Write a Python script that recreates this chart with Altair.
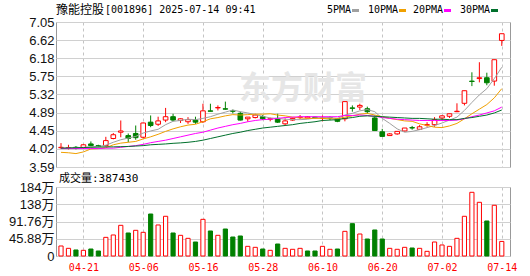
import altair as alt
import pandas as pd

# ---------------- data ----------------
dates = ["04-16","04-17","04-18","04-21","04-22","04-23","04-24","04-25","04-28","04-29",
         "04-30","05-06","05-07","05-08","05-09","05-12","05-13","05-14","05-15","05-16",
         "05-19","05-20","05-21","05-22","05-23","05-26","05-27","05-28","05-29","05-30",
         "06-03","06-04","06-05","06-06","06-09","06-10","06-11","06-12","06-13","06-16",
         "06-17","06-18","06-19","06-20","06-23","06-24","06-25","06-26","06-27","06-30",
         "07-01","07-02","07-03","07-04","07-07","07-08","07-09","07-10","07-11","07-14"]

opens = [4.05,4.04,4.06,4.05,4.14,4.10,4.10,4.27,4.42,4.34,
         4.39,4.30,4.66,4.61,4.71,4.79,4.70,4.67,4.71,4.67,
         4.93,5.00,4.98,4.93,4.87,4.74,4.77,4.79,4.73,4.75,
         4.62,4.71,4.77,4.76,4.78,4.75,4.77,4.74,4.74,5.00,
         5.02,4.98,4.76,4.43,4.34,4.38,4.45,4.53,4.49,4.59,
         4.60,4.76,4.80,4.91,5.11,5.64,5.70,5.72,5.64,6.61]
highs = [4.16,4.12,4.09,4.13,4.20,4.12,4.31,4.40,4.70,4.39,
         4.58,4.65,4.82,4.79,5.00,4.86,4.75,4.78,4.79,5.10,
         5.10,5.06,5.15,4.96,4.91,4.78,4.86,4.83,4.77,4.86,
         4.75,4.77,4.83,4.80,4.79,4.82,4.80,4.76,5.15,5.06,
         5.10,5.03,4.82,4.50,4.40,4.44,4.52,4.57,4.59,4.66,
         4.78,4.83,4.86,5.11,5.41,5.85,6.09,5.84,6.15,6.77]
lows = [4.02,4.01,4.01,4.02,4.08,4.06,4.08,4.25,4.30,4.18,
        4.24,4.27,4.54,4.57,4.66,4.68,4.64,4.62,4.62,4.64,
        4.92,4.94,4.96,4.87,4.70,4.67,4.75,4.71,4.68,4.64,
        4.57,4.69,4.73,4.75,4.75,4.68,4.71,4.66,4.68,4.91,
        4.95,4.86,4.46,4.32,4.33,4.36,4.44,4.48,4.48,4.55,
        4.55,4.71,4.76,4.90,5.06,5.52,5.61,5.54,5.53,6.48]
closes = [4.06,4.05,4.04,4.12,4.10,4.08,4.22,4.36,4.45,4.27,
          4.29,4.64,4.58,4.69,4.79,4.71,4.74,4.72,4.66,4.93,
          4.92,5.01,4.97,4.92,4.71,4.78,4.83,4.74,4.74,4.66,
          4.69,4.75,4.78,4.79,4.77,4.76,4.76,4.68,5.15,4.99,
          5.06,4.91,4.46,4.32,4.38,4.44,4.52,4.52,4.55,4.60,
          4.72,4.81,4.86,4.92,5.41,5.63,5.72,5.60,6.15,6.77]

ma5 = [4.04,4.04,4.05,4.06,4.07,4.08,4.11,4.18,4.24,4.28,
       4.32,4.40,4.45,4.49,4.60,4.68,4.70,4.73,4.72,4.75,
       4.79,4.85,4.90,4.95,4.91,4.88,4.84,4.80,4.76,4.75,
       4.73,4.72,4.72,4.73,4.76,4.77,4.77,4.75,4.83,4.87,
       4.93,4.96,4.91,4.75,4.63,4.50,4.42,4.44,4.48,4.53,
       4.58,4.64,4.71,4.78,4.94,5.13,5.31,5.46,5.70,5.97]
ma10 = [3.94,3.93,3.91,3.95,4.02,4.03,4.05,4.12,4.16,4.18,
        4.20,4.26,4.31,4.37,4.44,4.50,4.55,4.59,4.61,4.67,
        4.74,4.77,4.81,4.84,4.83,4.84,4.85,4.85,4.86,4.83,
        4.81,4.78,4.76,4.75,4.75,4.75,4.74,4.74,4.78,4.81,
        4.85,4.87,4.83,4.79,4.75,4.72,4.69,4.68,4.62,4.58,
        4.54,4.53,4.57,4.63,4.74,4.86,4.97,5.08,5.24,5.46]
ma20 = [4.03,4.03,4.03,4.03,4.03,4.03,4.04,4.04,4.06,4.08,
        4.10,4.13,4.17,4.20,4.23,4.27,4.31,4.35,4.39,4.42,
        4.47,4.52,4.56,4.60,4.63,4.67,4.70,4.72,4.73,4.75,
        4.77,4.78,4.79,4.79,4.79,4.79,4.79,4.79,4.82,4.82,
        4.83,4.82,4.80,4.77,4.75,4.73,4.72,4.71,4.70,4.70,
        4.70,4.70,4.70,4.71,4.74,4.79,4.83,4.88,4.93,5.02]
ma30 = [4.04,4.045,4.05,4.055,4.06,4.065,4.07,4.07,4.075,4.08,
        4.09,4.10,4.12,4.13,4.14,4.155,4.165,4.18,4.20,4.23,
        4.27,4.31,4.35,4.39,4.42,4.46,4.49,4.52,4.54,4.56,
        4.58,4.60,4.63,4.65,4.67,4.70,4.71,4.72,4.75,4.77,
        4.80,4.81,4.80,4.79,4.78,4.77,4.76,4.75,4.75,4.74,
        4.73,4.73,4.72,4.72,4.75,4.77,4.80,4.83,4.88,4.95]

# volume in 万 shares
volumes = [26.6,20.4,16.0,15.1,18.6,13.3,49.6,55.9,81.6,61.2,
           68.3,63.0,111.7,82.5,105.6,61.2,55.0,47.0,37.2,97.5,
           66.5,55.0,71.8,50.5,53.2,25.7,23.1,18.6,15.1,31.9,
           20.4,17.8,20.4,13.3,13.3,25.7,17.8,18.6,65.6,86.0,
           58.5,45.2,69.2,45.2,20.4,17.8,23.1,21.3,20.4,12.4,
           37.2,29.3,25.7,47.0,105.6,169.4,142.8,93.1,134.9,38.74]
vol_up = [1,1,0,1,0,0,1,1,1,0,
          1,1,0,1,1,0,1,1,0,1,
          0,1,0,0,0,1,1,0,1,0,
          1,1,1,0,0,1,1,0,1,0,
          1,0,0,0,1,1,1,0,1,1,
          1,1,1,1,1,1,1,0,1,1]

tick_dates = ["04-21","05-06","05-16","05-28","06-10","06-20","07-02","07-14"]
price_ticks = [3.59,4.02,4.45,4.89,5.32,5.75,6.18,6.62,7.05]
vol_ticks = [0,45.88,91.76,137.64,183.52]
vol_tick_labels = ["0","45.88万","91.76万","138万","184万"]
ma_names = ["5PMA","10PMA","20PMA","30PMA"]
ma_colors = ["#a0a0a0","#f0a000","#ff00ff","#00702c"]
title_name = "豫能控股"
title_rest = "[001896] 2025-07-14 09:41"
vol_header = "成交量:387430"
watermark = "东方财富"

# ---------------- build tables ----------------
n = len(dates)
df = pd.DataFrame({"i": list(range(n)), "date": dates, "open": opens, "high": highs,
                   "low": lows, "close": closes, "vol": volumes, "volup": vol_up})
df["dir"] = ["up" if c >= o else "down" for o, c in zip(opens, closes)]
ma_df = pd.concat([pd.DataFrame({"i": list(range(n)), "value": v, "series": name})
                   for name, v in zip(ma_names, [ma5, ma10, ma20, ma30])])
tick_idx = [dates.index(d) for d in tick_dates]

RED = "#ff0000"
GREEN = "#008000"
W = 454
HP = 145
HV = 69
xscale = alt.Scale(domain=[-0.67, 60.1], nice=False, zero=False)
pscale = alt.Scale(domain=[3.59, 7.05], nice=False, zero=False)
vscale = alt.Scale(domain=[0, 183.52], nice=False, zero=False)

x_axis_p = alt.Axis(values=tick_idx, labels=False, ticks=False, tickSize=0, domain=False,
                    grid=True, gridDash=[3, 3], gridColor="#c4c4c4", title=None)
y_axis_p = alt.Axis(values=price_ticks, format=".2f", title=None, grid=True, gridColor="#d0d0d0",
                    domain=False, ticks=False, tickSize=0, labelPadding=2, labelFont="Liberation Sans",
                    labelFontSize=13, labelColor="#111111", labelOverlap=False, labelFlush=False)

lab_expr = "''"
for k, d in zip(tick_idx, tick_dates):
    lab_expr = f"datum.value == {k} ? '{d}' : " + lab_expr
vlab_expr = "'0'"
for v, lab in zip(vol_ticks, vol_tick_labels):
    vlab_expr = f"abs(datum.value - {v}) < 0.01 ? '{lab}' : " + vlab_expr

x_axis_v = alt.Axis(values=tick_idx, labelExpr=lab_expr, ticks=False, tickSize=0, domain=False,
                    grid=True, gridDash=[3, 3], gridColor="#c4c4c4", title=None,
                    labelColor=RED, labelFont="DejaVu Sans Mono", labelFontSize=10,
                    labelPadding=6, labelFlush=False, labelOverlap=False)
y_axis_v = alt.Axis(values=vol_ticks, labelExpr=vlab_expr, title=None, grid=True, gridColor="#d0d0d0",
                    domain=False, ticks=False, tickSize=0, labelPadding=2,
                    labelFont="Liberation Sans, Noto Sans CJK SC", labelFontSize=13,
                    labelColor="#111111", labelOverlap=False, labelFlush=False)

def xp(field="i"):
    return alt.X(f"{field}:Q", scale=xscale, axis=x_axis_p)

def yp(field):
    return alt.Y(f"{field}:Q", scale=pscale, axis=y_axis_p)

one = pd.DataFrame({"k": [0]})

# ---------------- price panel ----------------
wm = alt.Chart(one).mark_text(text=watermark, font="Noto Sans CJK SC", fontSize=32,
                              fontWeight="bold", color="#e6e6e6", align="center",
                              baseline="middle").encode(x=alt.value(247), y=alt.value(67))
anchor = alt.Chart(one).mark_rule(color="#ffffff", strokeWidth=1).encode(
    x=alt.value(-55), x2=alt.value(-54), y=alt.value(-21), y2=alt.value(-20))

wick = alt.Chart(df).mark_rule(strokeWidth=1).encode(
    x=xp(), y=yp("low"), y2="high:Q",
    color=alt.condition("datum.dir == 'up'", alt.value(RED), alt.value(GREEN)))

body = alt.Chart(df).transform_calculate(
    x0="datum.i - 0.31", x1="datum.i + 0.31"
).mark_rect(strokeWidth=1).encode(
    x=xp("x0"), x2="x1:Q", y=yp("open"), y2="close:Q",
    fill=alt.condition("datum.dir == 'up'", alt.value("#ffffff"), alt.value(GREEN)),
    stroke=alt.condition("datum.dir == 'up'", alt.value(RED), alt.value(GREEN)))

lines = alt.Chart(ma_df).mark_line(strokeWidth=1, interpolate="linear").encode(
    x=xp(), y=yp("value"),
    color=alt.Color("series:N", scale=alt.Scale(domain=ma_names, range=ma_colors), legend=None),
    detail="series:N")

title1 = alt.Chart(one).mark_text(text=title_name, font="Noto Sans CJK SC", fontSize=12,
                                  align="left", baseline="middle", color="#000000").encode(
    x=alt.value(0), y=alt.value(-12))
title2 = alt.Chart(one).mark_text(text=title_rest, font="DejaVu Sans Mono", fontSize=10,
                                  align="left", baseline="middle", color="#000000").encode(
    x=alt.value(49), y=alt.value(-12))

leg_layers = []
leg_text_x = [271, 312, 357, 404]
for name, col, lx in zip(ma_names, ma_colors, leg_text_x):
    leg_layers.append(alt.Chart(one).mark_text(text=name, font="DejaVu Sans Mono", fontSize=10,
                                               align="left", baseline="middle", color="#000000").encode(
        x=alt.value(lx), y=alt.value(-12)))
    sx = lx + len(name) * 6 + 1
    leg_layers.append(alt.Chart(one).mark_rect(color=col).encode(
        x=alt.value(sx), x2=alt.value(sx + 7), y=alt.value(-13), y2=alt.value(-10)))

price = alt.layer(wm, anchor, wick, body, lines, title1, title2, *leg_layers).properties(
    width=W, height=HP)

# ---------------- volume panel ----------------
vhead = alt.Chart(one).mark_text(text=vol_header, font="DejaVu Sans Mono, Noto Sans CJK SC",
                                 fontSize=11, align="left", baseline="middle",
                                 color="#000000").encode(x=alt.value(3), y=alt.value(-8))

vbars = alt.Chart(df).transform_calculate(
    x0="datum.i - 0.28", x1="datum.i + 0.28", zero="0"
).mark_rect(strokeWidth=1).encode(
    x=alt.X("x0:Q", scale=xscale, axis=x_axis_v), x2="x1:Q",
    y=alt.Y("vol:Q", scale=vscale, axis=y_axis_v), y2="zero:Q",
    fill=alt.condition("datum.volup == 1", alt.value("#ffffff"), alt.value(GREEN)),
    stroke=alt.condition("datum.volup == 1", alt.value(RED), alt.value(GREEN)))

volume = alt.layer(vbars, vhead).properties(width=W, height=HV)

chart = alt.vconcat(price, volume, spacing=20, bounds="flush").properties(
    padding={"left": 0, "top": 0, "right": 0, "bottom": 0},
    background="#ffffff"
).configure_view(stroke="#999999", strokeWidth=1)

chart.save("out.html", embed_options={"renderer": "svg", "actions": False})
